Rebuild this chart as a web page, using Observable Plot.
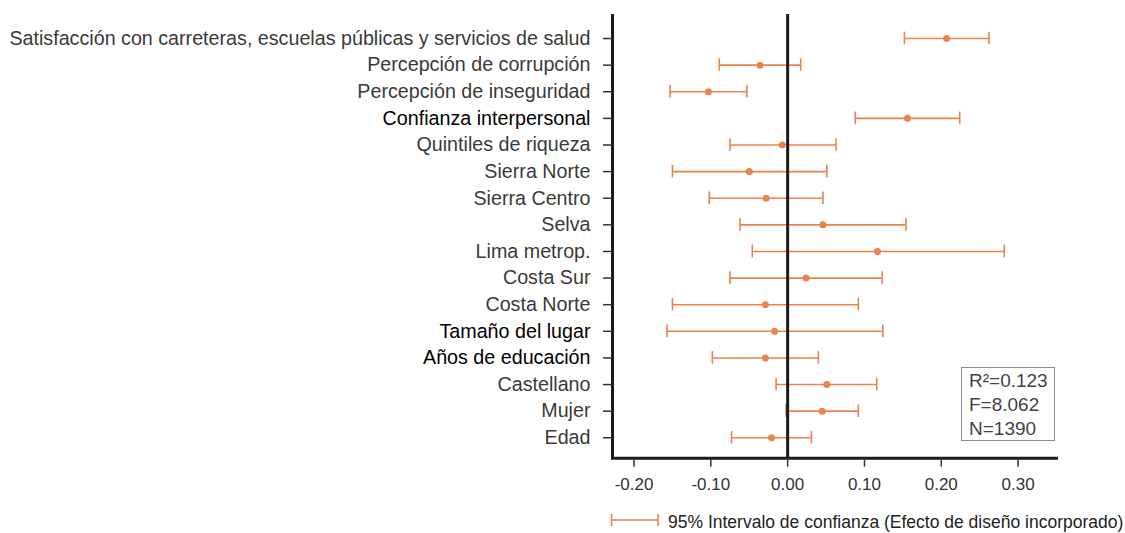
<!DOCTYPE html>
<html><head><meta charset="utf-8">
<script src="https://cdn.jsdelivr.net/npm/d3@7"></script>
<script src="https://cdn.jsdelivr.net/npm/@observablehq/plot@0.6"></script>
<style>
body{margin:0;background:#fff;font-family:"Liberation Sans",Arial,sans-serif;}
#wrap{position:relative;width:1125px;height:533px;overflow:hidden;}
#stats{position:absolute;left:961px;top:367px;width:94px;height:74px;border:1.5px solid #8c8c8c;color:#444;font-size:19px;line-height:24px;padding:1px 0 0 7px;box-sizing:border-box;white-space:nowrap;}
#legendKey{position:absolute;left:610px;top:513px;}
#legendText{position:absolute;left:668px;top:512px;color:#222;font-size:17.5px;line-height:21px;white-space:nowrap;}
</style></head><body><div id="wrap"></div>
<script>
const variables = [
  "Satisfacción con carreteras, escuelas públicas y servicios de salud",
  "Percepción de corrupción",
  "Percepción de inseguridad",
  "Confianza interpersonal",
  "Quintiles de riqueza",
  "Sierra Norte",
  "Sierra Centro",
  "Selva",
  "Lima metrop.",
  "Costa Sur",
  "Costa Norte",
  "Tamaño del lugar",
  "Años de educación",
  "Castellano",
  "Mujer",
  "Edad"
];
const estimates = [0.207, -0.036, -0.103, 0.156, -0.007, -0.050, -0.028, 0.046, 0.117, 0.024, -0.029, -0.017, -0.029, 0.051, 0.045, -0.021];
const lower     = [0.152, -0.089, -0.153, 0.088, -0.075, -0.150, -0.102, -0.062, -0.046, -0.075, -0.150, -0.157, -0.098, -0.015, -0.002, -0.073];
const upper     = [0.262, 0.017, -0.053, 0.224, 0.063, 0.051, 0.046, 0.154, 0.282, 0.123, 0.092, 0.124, 0.040, 0.116, 0.092, 0.031];
const emphasized = ["Confianza interpersonal", "Tamaño del lugar", "Años de educación"];
const xTicks = [-0.2, -0.1, 0, 0.1, 0.2, 0.3];
const xDomain = [-0.228, 0.35];
const stats = ["R\u00B2=0.123", "F=8.062", "N=1390"];
const legendLabel = "95% Intervalo de confianza (Efecto de diseño incorporado)";

const data = variables.map((v, i) => ({v, est: estimates[i], lo: lower[i], hi: upper[i]}));
const orange = "#E9834F";
const font = "'Liberation Sans',Arial,sans-serif";

const chart = Plot.plot({
  width: 1125, height: 500,
  marginLeft: 612, marginRight: 69, marginTop: 14, marginBottom: 42.3,
  insetTop: 10.7, insetBottom: 7.1,
  style: {fontFamily: font, background: "#fff"},
  x: {domain: xDomain},
  y: {type: "band", domain: variables, paddingInner: 0, paddingOuter: 0, round: false},
  marks: [
    Plot.ruleY(data, {y: "v", x1: "lo", x2: "hi", stroke: orange, strokeWidth: 1.6}),
    Plot.tickX(data, {y: "v", x: "lo", stroke: orange, strokeWidth: 1.6, insetTop: 7, insetBottom: 7}),
    Plot.tickX(data, {y: "v", x: "hi", stroke: orange, strokeWidth: 1.6, insetTop: 7, insetBottom: 7}),
    Plot.ruleX([0], {stroke: "#1a1a1a", strokeWidth: 3}),
    Plot.dot(data, {x: "est", y: "v", r: 3.5, fill: orange}),
    Plot.ruleX([xDomain[0]], {stroke: "#1a1a1a", strokeWidth: 3}),
    Plot.frame({anchor: "bottom", stroke: "#1a1a1a", strokeWidth: 3}),
    Plot.axisX(xTicks, {tickSize: 9, tickPadding: 11, strokeWidth: 1.5, stroke: "#333", fill: "#333", fontSize: 17, tickFormat: d => d.toFixed(2), label: null}),
    Plot.axisY(variables.filter(v => !emphasized.includes(v)), {tickSize: 9, tickPadding: 13, strokeWidth: 1.5, stroke: "#333", fill: "#3a3a3a", fontSize: 19.7, label: null}),
    Plot.axisY(emphasized, {tickSize: 9, tickPadding: 13, strokeWidth: 1.5, stroke: "#333", fill: "#000", fontSize: 19.7, label: null})
  ]
});

const wrap = document.getElementById("wrap");
wrap.appendChild(chart);

const box = document.createElement("div");
box.id = "stats";
box.innerHTML = stats.map(s => `<div>${s}</div>`).join("");
wrap.appendChild(box);

const key = document.createElement("div");
key.id = "legendKey";
key.innerHTML = `<svg width="50" height="14" style="display:block"><line x1="1.5" x2="48" y1="7" y2="7" stroke="${orange}" stroke-width="1.6"/><line x1="1.5" x2="1.5" y1="1" y2="13" stroke="${orange}" stroke-width="1.6"/><line x1="48" x2="48" y1="1" y2="13" stroke="${orange}" stroke-width="1.6"/></svg>`;
wrap.appendChild(key);

const lt = document.createElement("div");
lt.id = "legendText";
lt.textContent = legendLabel;
wrap.appendChild(lt);
</script>
</body></html>
